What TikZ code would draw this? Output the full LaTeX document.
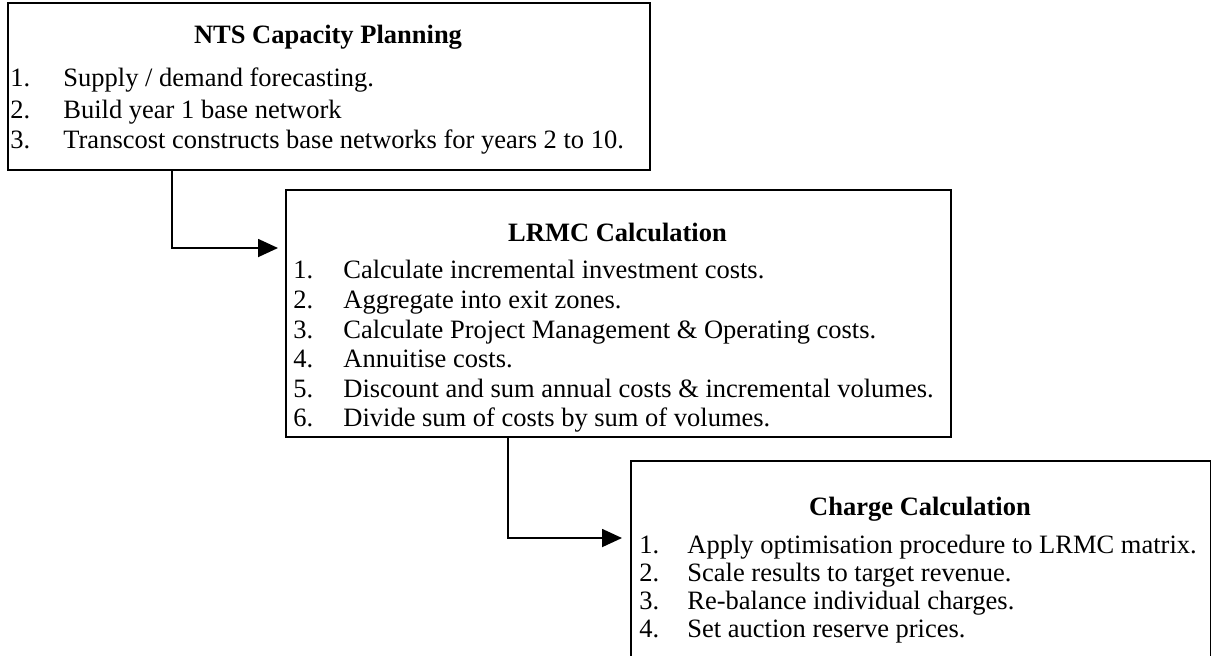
\documentclass[tikz,border=0pt]{standalone}
\usepackage{fontspec}
\setmainfont{Liberation Serif}
\usetikzlibrary{arrows.meta}
\begin{document}
\begin{tikzpicture}[x=0.5pt,y=-0.5pt,
  box/.style={draw=black,line width=1pt,inner sep=0pt,anchor=north west},
  openbox/.style={inner sep=0pt,anchor=north west},
  sides/.style={draw=black,line width=1pt},
  ttl/.style={anchor=base,inner sep=0pt,font=\fontsize{13.25}{15}\selectfont\bfseries},
  num/.style={anchor=base west,inner sep=0pt,font=\fontsize{13.25}{15}\selectfont},
  itm/.style={anchor=base west,inner sep=0pt,font=\fontsize{13.25}{15}\selectfont},
  conn/.style={draw=black,line width=0.9pt,-{Triangle[length=10pt,width=9pt]}}]
\useasboundingbox (0,0) rectangle (1211,655);
% boxes
\node[box,minimum width=321pt,minimum height=83.5pt] (box1) at (7,2) {};
\node[box,minimum width=332.5pt,minimum height=123.5pt] (box2) at (285,189) {};
\node[openbox,minimum width=289.5pt,minimum height=110pt] (box3) at (631,461) {};
\draw[sides] (box3.south west) -- (box3.north west) -- (box3.north east) -- (box3.south east);
% box 1 text
\node[ttl] (t1) at (328,43) {NTS Capacity Planning};
\node[num] (n11) at (10,86) {1.};  \node[itm] (i11) at (63,86) {Supply / demand forecasting.};
\node[num] (n12) at (10,118) {2.}; \node[itm] (i12) at (63,118) {Build year 1 base network};
\node[num] (n13) at (10,148) {3.}; \node[itm] (i13) at (63,148) {Transcost constructs base networks for years 2 to 10.};
% box 2 text
\node[ttl] (t2) at (617.5,241) {LRMC Calculation};
\node[num] (n21) at (293,278) {1.}; \node[itm] (i21) at (343,278) {Calculate incremental investment costs.};
\node[num] (n22) at (293,308) {2.}; \node[itm] (i22) at (343,308) {Aggregate into exit zones.};
\node[num] (n23) at (293,338) {3.}; \node[itm] (i23) at (343,338) {Calculate Project Management \& Operating costs.};
\node[num] (n24) at (293,367) {4.}; \node[itm] (i24) at (343,367) {Annuitise costs.};
\node[num] (n25) at (293,397) {5.}; \node[itm] (i25) at (343,397) {Discount and sum annual costs \& incremental volumes.};
\node[num] (n26) at (293,426) {6.}; \node[itm] (i26) at (343,426) {Divide sum of costs by sum of volumes.};
% box 3 text
\node[ttl] (t3) at (920,515) {Charge Calculation};
\node[num] (n31) at (639,553) {1.}; \node[itm] (i31) at (687,553) {Apply optimisation procedure to LRMC matrix.};
\node[num] (n32) at (639,581) {2.}; \node[itm] (i32) at (687,581) {Scale results to target revenue.};
\node[num] (n33) at (639,609) {3.}; \node[itm] (i33) at (687,609) {Re-balance individual charges.};
\node[num] (n34) at (639,637) {4.}; \node[itm] (i34) at (687,637) {Set auction reserve prices.};
% connectors
\coordinate (s1) at (172,169);
\coordinate (e1) at (278,248);
\coordinate (s2) at (508,436);
\coordinate (e2) at (622,538);
\draw[conn] (s1) |- (e1);
\draw[conn] (s2) |- (e2);
\end{tikzpicture}
\end{document}
